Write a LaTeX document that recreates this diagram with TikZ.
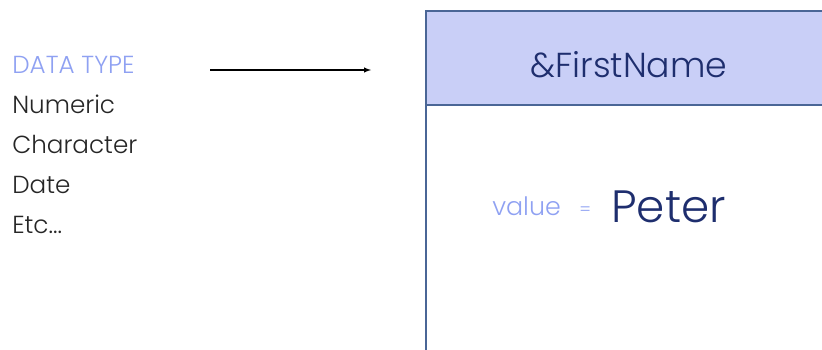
\documentclass[tikz,border=0pt]{standalone}
\usepackage{fontspec}
\setmainfont{Poppins Light}
\usetikzlibrary{positioning}

\definecolor{lightblu}{HTML}{8FA1F2}
\definecolor{navy}{HTML}{1E2E6E}
\definecolor{headfill}{HTML}{C9CFF7}
\definecolor{edgeblu}{HTML}{4A6696}

\begin{document}
\begin{tikzpicture}[x=0.75pt,y=-0.75pt,
    item/.style={anchor=base west,inner sep=0pt,font=\fontsize{18.5}{18.5}\selectfont,text=black!85},
    head/.style={item,text=lightblu}]
    \useasboundingbox (0,0) rectangle (822,350);
    \clip (0,0) rectangle (822,350);
	% list of types
	\node[head] (dt) at (12,73) {DATA TYPE};
	\node[item] (num) at (12,113) {Numeric};
	\node[item] (chr) at (12,153) {Character};
	\node[item] (dte) at (12,193) {Date};
	\node[item] (etc) at (12,233) {Etc...};
	% variable box
	\fill[headfill] (426,11) rectangle (830,105);
	\draw[edgeblu,line width=0.9pt] (830,11) -- (426,11) -- (426,360);
	\draw[edgeblu,line width=0.9pt] (426,105) -- (830,105);
	\node[anchor=base,inner sep=0pt,text=navy,font=\fontsize{26}{26}\selectfont] (var) at (629,77) {\&FirstName};
	\node[anchor=base west,inner sep=0pt,text=lightblu,font=\fontsize{19}{19}\selectfont] (val) at (492,215) {value};
	\node[anchor=base west,inner sep=0pt,text=lightblu,font=\fontsize{13}{13}\selectfont] (eq) at (579,215) {=};
	\node[anchor=base west,inner sep=0pt,text=navy,font=\fontsize{34}{34}\selectfont] (pet) at (611,222) {Peter};
	% arrow
	\coordinate (arrS) at (210,70);
	\coordinate (arrE) at (371,70);
	\draw[-latex,line width=0.8pt] (arrS) -- (arrE);
\end{tikzpicture}
\end{document}
